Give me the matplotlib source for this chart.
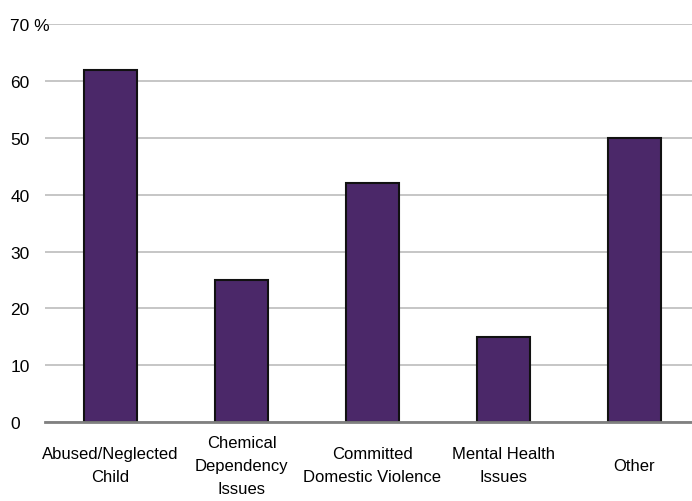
import matplotlib.pyplot as plt
from matplotlib.ticker import FixedLocator

plt.rcParams['font.family'] = ['Liberation Sans', 'DejaVu Sans']

categories = ['Abused/Neglected\nChild', 'Chemical\nDependency\nIssues',
              'Committed\nDomestic Violence', 'Mental Health\nIssues', 'Other']
values = [62, 25, 42, 15, 50]
yticks = [0, 10, 20, 30, 40, 50, 60, 70]
ytick_labels = ['0', '10', '20', '30', '40', '50', '60', '70 %']

fig = plt.figure(figsize=(6.92, 5.02), dpi=100)
ax = fig.add_axes([0.065, 0.157, 0.935, 0.793])

x = range(len(categories))
ax.bar(x, values, width=0.4, color='#4b2869', edgecolor='#111111', linewidth=1.5, zorder=3)

ax.set_ylim(0, 70)
ax.set_xlim(-0.5, 4.44)
ax.yaxis.set_major_locator(FixedLocator(yticks))
ax.set_yticklabels(ytick_labels, fontsize=12.5, ha='left')
ax.tick_params(axis='y', length=0, pad=25)
ax.grid(axis='y', color='#bcbcbc', linewidth=1.2, zorder=0)

ax.set_xticks(list(x))
ax.set_xticklabels(categories, fontsize=12, va='center', linespacing=1.65)
ax.tick_params(axis='x', length=0, pad=31)

for s in ['top', 'right', 'left']:
    ax.spines[s].set_visible(False)
ax.spines['bottom'].set_color('#808080')
ax.spines['bottom'].set_linewidth(2)
ax.spines['bottom'].set_zorder(4)

fig.savefig('out.png', dpi=100)
